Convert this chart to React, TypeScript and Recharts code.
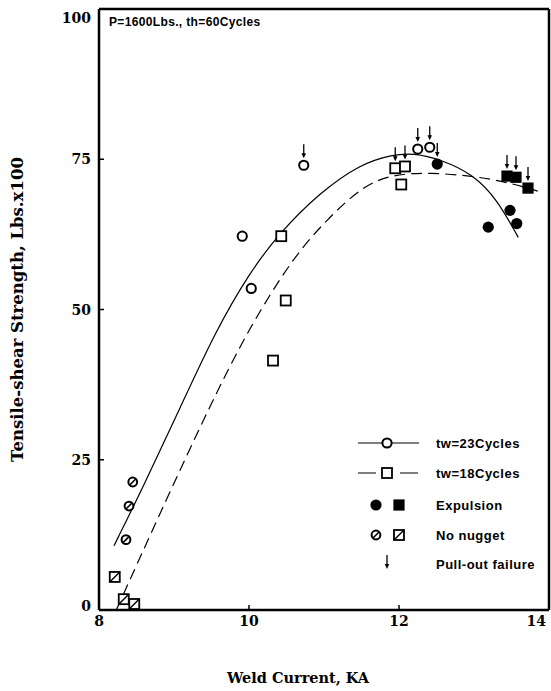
import React from 'react';
import { ComposedChart, Line, Scatter, XAxis, YAxis, ReferenceLine, Label } from 'recharts';

const xTicks = [8, 10, 12, 14];
const yTicks = [0, 25, 50, 75, 100];

// fitted curve, tw = 23 cycles (solid)
const curve23 = [
  { x: 8.2, y: 10.7 }, { x: 8.59, y: 20.5 }, { x: 9.08, y: 33.6 }, { x: 9.55, y: 46.3 },
  { x: 10.0, y: 56 }, { x: 10.41, y: 62.8 }, { x: 10.95, y: 69.5 }, { x: 11.48, y: 74.2 },
  { x: 11.92, y: 75.8 }, { x: 12.19, y: 76 }, { x: 12.55, y: 75 }, { x: 12.99, y: 72.5 },
  { x: 13.31, y: 68.3 }, { x: 13.59, y: 62 },
];
// fitted curve, tw = 18 cycles (dashed)
const curve18 = [
  { x: 8.23, y: 0 }, { x: 8.92, y: 19 }, { x: 9.48, y: 34 }, { x: 9.99, y: 46.7 },
  { x: 10.59, y: 58.7 }, { x: 11.04, y: 65 }, { x: 11.52, y: 70.6 }, { x: 11.92, y: 72.5 },
  { x: 12.41, y: 72.8 }, { x: 12.99, y: 72.2 }, { x: 13.44, y: 71.2 }, { x: 13.85, y: 69.7 },
];

// p = pull-out failure
const open23 = [
  { x: 9.91, y: 62.2, p: 0 }, { x: 10.03, y: 53.5, p: 0 }, { x: 10.73, y: 74.0, p: 1 },
  { x: 12.25, y: 76.7, p: 1 }, { x: 12.41, y: 77.0, p: 1 },
];
const open18 = [
  { x: 10.43, y: 62.2, p: 0 }, { x: 10.49, y: 51.5, p: 0 }, { x: 10.32, y: 41.5, p: 0 },
  { x: 11.95, y: 73.5, p: 1 }, { x: 12.08, y: 73.8, p: 1 }, { x: 12.03, y: 70.8, p: 0 },
];
const expel23 = [
  { x: 12.51, y: 74.2, p: 1 }, { x: 13.19, y: 63.7, p: 0 }, { x: 13.48, y: 66.5, p: 0 },
  { x: 13.57, y: 64.3, p: 0 },
];
const expel18 = [
  { x: 13.44, y: 72.2, p: 1 }, { x: 13.56, y: 72.0, p: 1 }, { x: 13.72, y: 70.2, p: 1 },
];
const nugget23 = [
  { x: 8.36, y: 11.7, p: 0 }, { x: 8.40, y: 17.3, p: 0 }, { x: 8.45, y: 21.3, p: 0 },
];
const nugget18 = [
  { x: 8.21, y: 5.5, p: 0 }, { x: 8.33, y: 1.8, p: 0 }, { x: 8.47, y: 1.0, p: 0 },
];

const serif = 'DejaVu Serif';
const sans = 'Liberation Sans';

function Marker({ kind, cx, cy }: { kind: string; cx: number; cy: number }) {
  const s = 5;
  switch (kind) {
    case 'oc':
      return <circle cx={cx} cy={cy} r={4.6} fill="#fff" stroke="#000" strokeWidth={2} />;
    case 'os':
      return <rect x={cx - s} y={cy - s} width={2 * s} height={2 * s} fill="#fff" stroke="#000" strokeWidth={1.8} />;
    case 'fc':
      return <circle cx={cx} cy={cy} r={5.6} fill="#000" />;
    case 'fs':
      return <rect x={cx - 5.6} y={cy - 5.6} width={11.2} height={11.2} fill="#000" />;
    case 'nc':
      return (
        <g>
          <circle cx={cx} cy={cy} r={4.4} fill="#fff" stroke="#000" strokeWidth={2} />
          <line x1={cx - 3} y1={cy + 3} x2={cx + 3} y2={cy - 3} stroke="#000" strokeWidth={1.6} />
        </g>
      );
    case 'ns':
      return (
        <g>
          <rect x={cx - s} y={cy - s} width={2 * s} height={2 * s} fill="#fff" stroke="#000" strokeWidth={1.8} />
          <line x1={cx - s} y1={cy + s} x2={cx + s} y2={cy - s} stroke="#000" strokeWidth={1.5} />
        </g>
      );
    default:
      return null;
  }
}

function Arrow({ cx, cy }: { cx: number; cy: number }) {
  return (
    <g>
      <line x1={cx} y1={cy - 21} x2={cx} y2={cy - 10} stroke="#000" strokeWidth={1.3} />
      <path d={`M${cx - 2.3},${cy - 12} L${cx + 2.3},${cy - 12} L${cx},${cy - 7} Z`} fill="#000" />
    </g>
  );
}

const makeShape = (kind: string) => (props: any) => {
  const { cx, cy, payload } = props;
  if (cx == null || cy == null) return <g />;
  return (
    <g>
      {payload && payload.p ? <Arrow cx={cx} cy={cy} /> : null}
      <Marker kind={kind} cx={cx} cy={cy} />
    </g>
  );
};

const tickFont = { fontFamily: serif, fontWeight: 700, fontSize: 14, fill: '#000' } as any;

function XTick(props: any) {
  const { x, y, payload } = props;
  const last = payload.value === 14;
  return (
    <text x={last ? x + 3 : x} y={y + 11} textAnchor={last ? 'end' : 'middle'} style={tickFont}>
      {payload.value}
    </text>
  );
}

function YTick(props: any) {
  const { x, y, payload } = props;
  const dy = payload.value === 100 ? 14 : payload.value === 0 ? 1 : 5;
  return (
    <text x={x} y={y + dy} textAnchor="end" style={tickFont}>
      {payload.value}
    </text>
  );
}

function LegendOverlay() {
  const rowY = [13, 43, 75, 105, 134];
  const textX = 86;
  const txt = { fontFamily: sans, fontWeight: 700, fontSize: 13, letterSpacing: 0.5, fill: '#000' } as any;
  return (
    <svg width={200} height={150} style={{ position: 'absolute', left: 350, top: 430, overflow: 'visible' }}>
      <line x1={8} y1={rowY[0]} x2={69} y2={rowY[0]} stroke="#000" strokeWidth={1.2} />
      <Marker kind="oc" cx={37} cy={rowY[0]} />
      <text x={textX} y={rowY[0] + 4.5} style={txt}>tw=23Cycles</text>
      <line x1={8} y1={rowY[1]} x2={69} y2={rowY[1]} stroke="#000" strokeWidth={1.2} strokeDasharray="18 5 4 15 18" />
      <Marker kind="os" cx={37} cy={rowY[1]} />
      <text x={textX} y={rowY[1] + 4.5} style={txt}>tw=18Cycles</text>
      <Marker kind="fc" cx={26} cy={rowY[2]} />
      <Marker kind="fs" cx={49} cy={rowY[2]} />
      <text x={textX} y={rowY[2] + 4.5} style={txt}>Expulsion</text>
      <Marker kind="nc" cx={26} cy={rowY[3]} />
      <Marker kind="ns" cx={49} cy={rowY[3]} />
      <text x={textX} y={rowY[3] + 4.5} style={txt}>No nugget</text>
      <Arrow cx={37} cy={rowY[4] + 12} />
      <text x={textX} y={rowY[4] + 4.5} style={txt}>Pull-out failure</text>
    </svg>
  );
}

export default function App() {
  return (
    <div style={{ position: 'absolute', left: 0, top: 0, width: 551, height: 691, background: '#fff' }}>
      <ComposedChart width={551} height={691} margin={{ top: 9, right: 2, bottom: 1, left: 0 }}>
        <XAxis
          type="number"
          dataKey="x"
          domain={[8, 14]}
          ticks={xTicks}
          allowDataOverflow
          height={80}
          tickSize={-5}
          tickMargin={10}
          tick={<XTick />}
          axisLine={{ stroke: '#000', strokeWidth: 2.5 }}
          tickLine={{ stroke: '#000', strokeWidth: 1.5 }}
        >
          <Label
            content={(p: any) => {
              const vb = p.viewBox || {};
              return (
                <text x={vb.x + vb.width / 2 - 26} y={683} textAnchor="middle"
                  style={{ fontFamily: serif, fontWeight: 700, fontSize: 14.5, fill: '#000' }}>
                  Weld Current, KA
                </text>
              );
            }}
          />
        </XAxis>
        <YAxis
          type="number"
          dataKey="y"
          domain={[0, 100]}
          ticks={yTicks}
          allowDataOverflow
          width={99}
          tickSize={-5}
          tickMargin={13}
          tick={<YTick />}
          axisLine={{ stroke: '#000', strokeWidth: 2.5 }}
          tickLine={{ stroke: '#000', strokeWidth: 1.5 }}
        >
          <Label
            content={(p: any) => {
              const vb = p.viewBox || {};
              const cy = vb.y + vb.height / 2;
              return (
                <text x={23} y={cy} transform={`rotate(-90 23 ${cy})`} textAnchor="middle"
                  style={{ fontFamily: serif, fontWeight: 700, fontSize: 16.5, fill: '#000' }}>
                  Tensile-shear Strength, Lbs.x100
                </text>
              );
            }}
          />
        </YAxis>
        <ReferenceLine y={100} stroke="#000" strokeWidth={2.5} ifOverflow="visible">
          <Label
            content={(p: any) => {
              const vb = p.viewBox || {};
              return (
                <text x={vb.x + 10} y={vb.y + 17}
                  style={{ fontFamily: sans, fontWeight: 700, fontSize: 12, letterSpacing: 0.35, fill: '#000' }}>
                  P=1600Lbs., th=60Cycles
                </text>
              );
            }}
          />
        </ReferenceLine>
        <ReferenceLine x={14} stroke="#000" strokeWidth={2.5} ifOverflow="visible" />
        <Line data={curve23} dataKey="y" type="basis" stroke="#000" strokeWidth={1.2} dot={false} activeDot={false} isAnimationActive={false} />
        <Line data={curve18} dataKey="y" type="basis" stroke="#000" strokeWidth={1.2} strokeDasharray="11 6" dot={false} activeDot={false} isAnimationActive={false} />
        <Scatter data={open23} dataKey="y" shape={makeShape('oc')} isAnimationActive={false} />
        <Scatter data={open18} dataKey="y" shape={makeShape('os')} isAnimationActive={false} />
        <Scatter data={expel23} dataKey="y" shape={makeShape('fc')} isAnimationActive={false} />
        <Scatter data={expel18} dataKey="y" shape={makeShape('fs')} isAnimationActive={false} />
        <Scatter data={nugget23} dataKey="y" shape={makeShape('nc')} isAnimationActive={false} />
        <Scatter data={nugget18} dataKey="y" shape={makeShape('ns')} isAnimationActive={false} />
      </ComposedChart>
      <LegendOverlay />
    </div>
  );
}
